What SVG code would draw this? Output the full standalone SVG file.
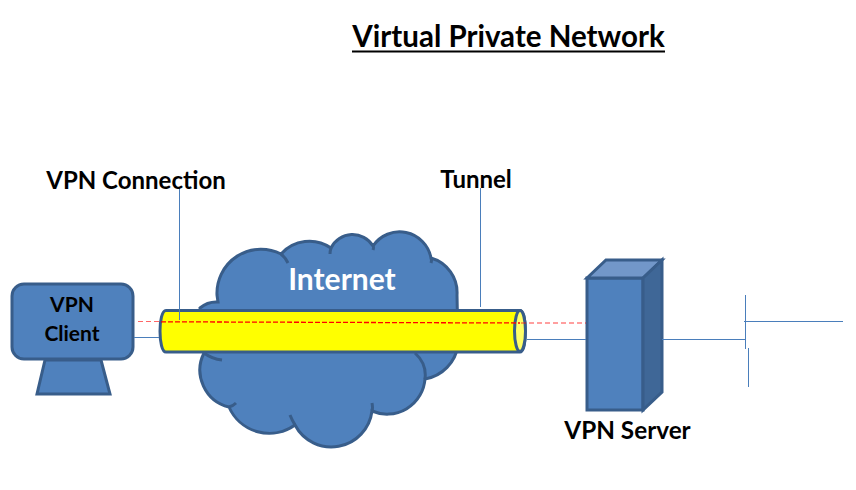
<svg xmlns="http://www.w3.org/2000/svg" width="856" height="490" viewBox="0 0 856 490">
<style>
text{font-family:Lato,"Open Sans","Liberation Sans",sans-serif;font-weight:700;fill:#000;text-anchor:middle}
.s{fill:#4f81bd;stroke:#385d8a;stroke-width:3;stroke-linejoin:miter}
.i{fill:none;stroke:#385d8a;stroke-width:3}
.l{fill:none;stroke:#4a7ebb;stroke-width:1}
.d{fill:none;stroke:#ff0000;stroke-width:1.300;stroke-dasharray:5 2}
</style>
<rect width="856" height="490" fill="#fff"/>
<g id="title"><text x="508.500" y="47" font-size="29.500">Virtual Private Network</text><path d="M352 51.500H665" stroke="#000" stroke-width="2"/></g>
<g id="internet">
<path class="s" d="M200 308A25 25 0 0 1 218 302L217 295A44 44 0 0 1 281 254A38 38 0 0 1 331 248A24 24 0 0 1 373 246A32 32 0 0 1 431 258A36 36 0 0 1 457 295L458 345A40 40 0 0 1 425 379A38 38 0 0 1 372 411A41 41 0 0 1 295 425A44 44 0 0 1 229 407A38 38 0 0 1 204 353L200 308Z"/>
<path class="i" d="M281 254Q285 257 288 263M331 248Q330 251 330 254M373 246Q374 247 373 250M431 258Q432 260 431 263M425 379Q427 364 415 353M372 411Q373 408 372 403M295 425Q292 420 290 415M229 407Q233 406 236 403M204 353Q212 359 222 360"/>
<text x="342" y="290" font-size="30" style="fill:#fff">Internet</text>
</g>
<g id="vpn-client">
<path class="s" d="M45 360L37 394H110L101 360Z"/>
<rect class="s" x="12" y="284" width="121" height="75" rx="12"/>
<text x="72" y="312" font-size="21">VPN</text>
<text x="72" y="341" font-size="21">Client</text>
</g>
<g id="tunnel">
<path d="M166 310.500H520C527 310.500 527 352 520 352H166C158 352 158 310.500 166 310.500Z" fill="#ff0" stroke="#385d8a" stroke-width="3"/>
<ellipse cx="520" cy="331" rx="5.500" ry="20.500" fill="#ffff66" stroke="#385d8a" stroke-width="3"/>
</g>
<g id="vpn-server">
<rect class="s" x="587" y="278" width="56" height="132"/>
<path d="M587 278L606 260H662L643 278Z" fill="#7297c9" stroke="#385d8a" stroke-width="3"/>
<path d="M643 278L662 260V392L643 410Z" fill="#3f6797" stroke="#385d8a" stroke-width="3"/>
<text x="627.500" y="439" font-size="24.300">VPN Server</text>
</g>
<g id="connectors">
<path class="l" d="M179.500 188V320M480.500 188V307M134 337.500H159M527 339.500H586M662 339.500H745M745.500 295V349M744 321.500H843M748.500 348V387"/>
<path d="M138 321.500H160" fill="none" stroke="#ff0000" stroke-opacity=".6" stroke-width="1" stroke-dasharray="5 3"/>
<path class="d" d="M161 321.800L520 323"/>
<path d="M521 323H586" fill="none" stroke="#ff0000" stroke-opacity=".5" stroke-width="1.500" stroke-dasharray="5 3"/>
</g>
<g id="labels">
<text x="136" y="189" font-size="24">VPN Connection</text>
<text x="476" y="188" font-size="24">Tunnel</text>
</g>
</svg>
